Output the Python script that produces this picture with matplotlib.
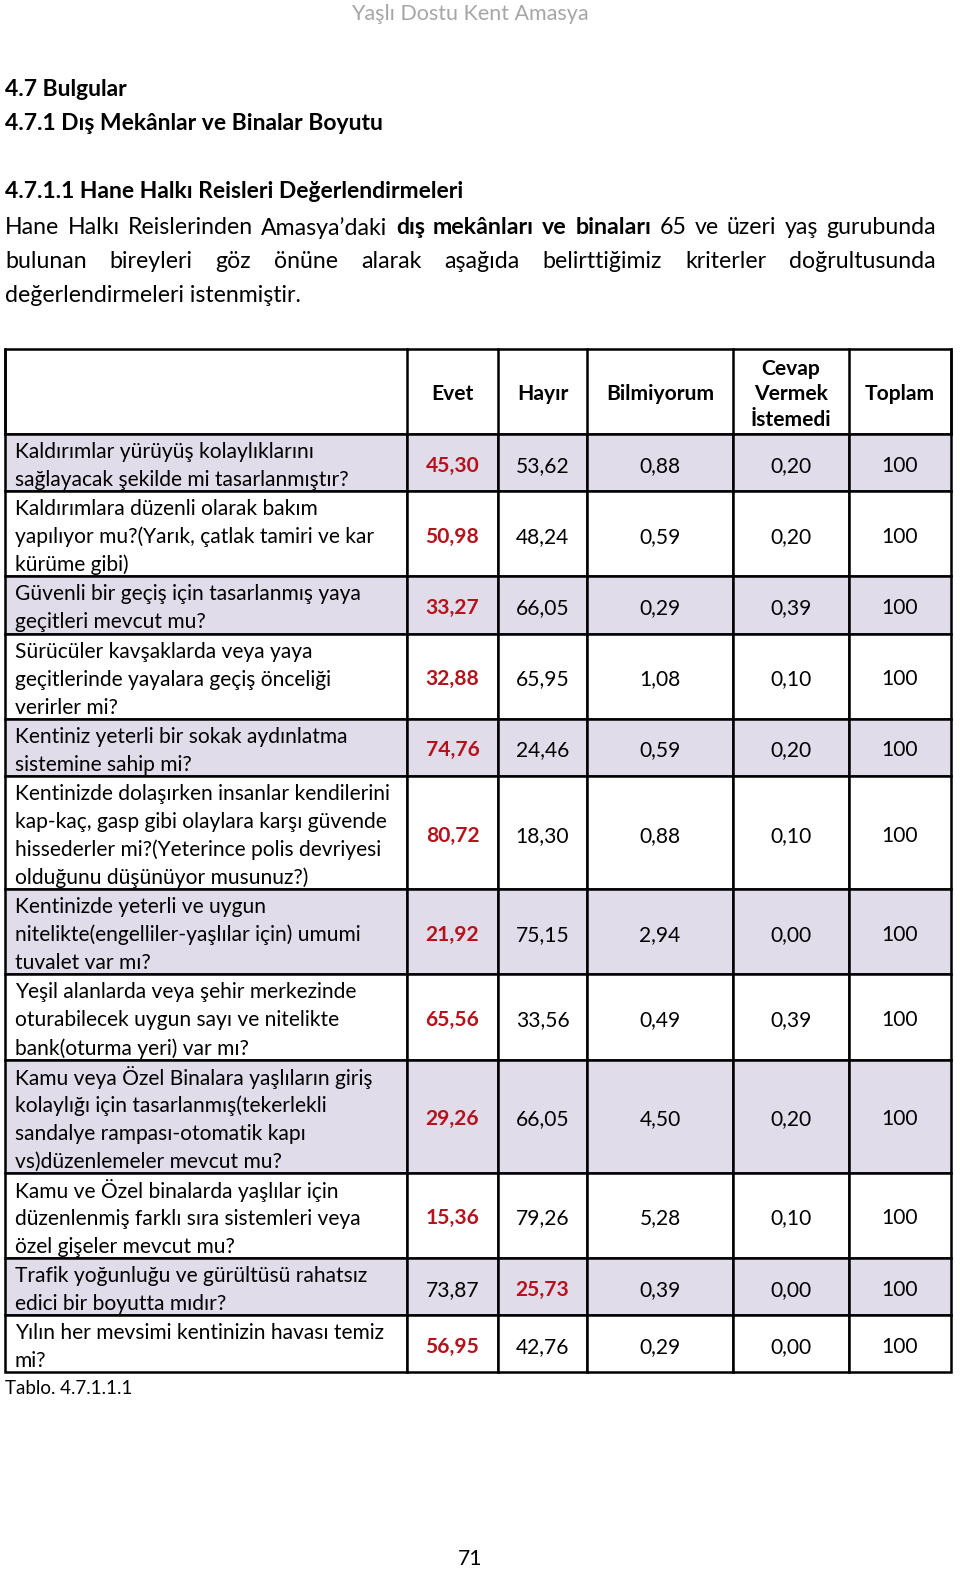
import matplotlib
matplotlib.use("Agg")
import matplotlib.pyplot as plt
from matplotlib.patches import Rectangle

plt.rcParams['font.family'] = ['Lato', 'DejaVu Sans']

# table data
columns = ['Evet', 'Hayır', 'Bilmiyorum', 'Cevap\nVermek\nİstemedi', 'Toplam']
questions = [
    "Kaldırımlar yürüyüş kolaylıklarını\nsağlayacak şekilde mi tasarlanmıştır?",
    "Kaldırımlara düzenli olarak bakım\nyapılıyor mu?(Yarık, çatlak tamiri ve kar\nkürüme gibi)",
    "Güvenli bir geçiş için tasarlanmış yaya\ngeçitleri mevcut mu?",
    "Sürücüler kavşaklarda veya yaya\ngeçitlerinde yayalara geçiş önceliği\nverirler mi?",
    "Kentiniz yeterli bir sokak aydınlatma\nsistemine sahip mi?",
    "Kentinizde dolaşırken insanlar kendilerini\nkap-kaç, gasp gibi olaylara karşı güvende\nhissederler mi?(Yeterince polis devriyesi\nolduğunu düşünüyor musunuz?)",
    "Kentinizde yeterli ve uygun\nnitelikte(engelliler-yaşlılar için) umumi\ntuvalet var mı?",
    "Yeşil alanlarda veya şehir merkezinde\noturabilecek uygun sayı ve nitelikte\nbank(oturma yeri) var mı?",
    "Kamu veya Özel Binalara yaşlıların giriş\nkolaylığı için tasarlanmış(tekerlekli\nsandalye rampası-otomatik kapı\nvs)düzenlemeler mevcut mu?",
    "Kamu ve Özel binalarda yaşlılar için\ndüzenlenmiş farklı sıra sistemleri veya\nözel gişeler mevcut mu?",
    "Trafik yoğunluğu ve gürültüsü rahatsız\nedici bir boyutta mıdır?",
    "Yılın her mevsimi kentinizin havası temiz\nmi?",
]
evet = [45.30, 50.98, 33.27, 32.88, 74.76, 80.72, 21.92, 65.56, 29.26, 15.36, 73.87, 56.95]
hayir = [53.62, 48.24, 66.05, 65.95, 24.46, 18.30, 75.15, 33.56, 66.05, 79.26, 25.73, 42.76]
bilmiyorum = [0.88, 0.59, 0.29, 1.08, 0.59, 0.88, 2.94, 0.49, 4.50, 5.28, 0.39, 0.29]
cevap_yok = [0.20, 0.20, 0.39, 0.10, 0.20, 0.10, 0.00, 0.39, 0.20, 0.10, 0.00, 0.00]
toplam = [100] * 12
highlight = ['Evet'] * 10 + ['Hayır', 'Evet']

SHADE = '#e0dcea'
RED = '#b5121b'
FS = 15.1      # table text
FS_P = 16.7    # paragraph text
FS_H = 16.5    # headings

fig = plt.figure(figsize=(9.6, 15.74), dpi=100)
ax = fig.add_axes([0, 0, 1, 1])
ax.set_xlim(0, 960)
ax.set_ylim(1574, 0)
ax.axis('off')
renderer = fig.canvas.get_renderer()

# page text
ax.text(470, 14, 'Yaşlı Dostu Kent Amasya', fontsize=15.5, color='#a6a6a6', ha='center', va='center')
ax.text(5, 89, '4.7 Bulgular', fontsize=FS_H, fontweight='bold', va='center')
ax.text(5, 123, '4.7.1 Dış Mekânlar ve Binalar Boyutu', fontsize=FS_H, fontweight='bold', va='center')
ax.text(5, 192, '4.7.1.1 Hane Halkı Reisleri Değerlendirmeleri', fontsize=FS_H, fontweight='bold', va='center')


def justify(words, y, x0, x1):
    texts = [ax.text(0, y, w, fontsize=FS_P, fontweight='bold' if b else 'normal', va='center')
             for w, b in words]
    widths = [t.get_window_extent(renderer).width for t in texts]
    gap = (x1 - x0 - sum(widths)) / (len(words) - 1)
    x = x0
    for t, w in zip(texts, widths):
        t.set_x(x)
        x += w + gap


line1 = [(w, False) for w in "Hane Halkı Reislerinden Amasya’daki".split()] + \
        [(w, True) for w in "dış mekânları ve binaları".split()] + \
        [(w, False) for w in "65 ve üzeri yaş gurubunda".split()]
line2 = [(w, False) for w in "bulunan bireyleri göz önüne alarak aşağıda belirttiğimiz kriterler doğrultusunda".split()]
justify(line1, 228, 5, 936)
justify(line2, 262, 5, 936)
ax.text(5, 296, 'değerlendirmeleri istenmiştir.', fontsize=FS_P, va='center')

# table geometry
col_edges = [5, 407, 498, 587, 733, 849, 951]
top, head_h, line_h = 349, 85, 28.0
values = [evet, hayir, bilmiyorum, cevap_yok, toplam]

# header
ax.add_patch(Rectangle((col_edges[0], top), col_edges[-1] - col_edges[0], head_h,
                       facecolor='white', edgecolor='black', lw=1.8))
for j, name in enumerate(columns):
    xc = (col_edges[j + 1] + col_edges[j + 2]) / 2
    ax.text(xc, top + head_h / 2 + 3, name, fontsize=FS, fontweight='bold', ha='center', va='center',
            linespacing=1.33)

y = top + head_h
for i, q in enumerate(questions):
    n = q.count('\n') + 1
    h = line_h * n + 1.2
    fc = SHADE if i % 2 == 0 else 'white'
    for j in range(len(col_edges) - 1):
        ax.add_patch(Rectangle((col_edges[j], y), col_edges[j + 1] - col_edges[j], h,
                               facecolor=fc, edgecolor='black', lw=1.8))
    for k, line in enumerate(q.split('\n')):
        ax.text(15, y + 18 + k * line_h, line, fontsize=FS, va='center')
    for j, col in enumerate(values):
        v = col[i]
        s = str(v) if col is toplam else f"{v:.2f}".replace('.', ',')
        red = highlight[i] == columns[j]
        xc = (col_edges[j + 1] + col_edges[j + 2]) / 2
        ax.text(xc, y + h / 2 + 3, s, fontsize=FS, ha='center', va='center',
                color=RED if red else 'black', fontweight='bold' if red else 'normal')
    y += h

for xe in col_edges:
    ax.plot([xe, xe], [top, top + head_h], color='black', lw=1.8)

ax.text(5, 1388, 'Tablo. 4.7.1.1.1', fontsize=13.5, va='center')
ax.text(470, 1559, '71', fontsize=FS, ha='center', va='center')

fig.savefig('out.png', dpi=100, facecolor='white')
